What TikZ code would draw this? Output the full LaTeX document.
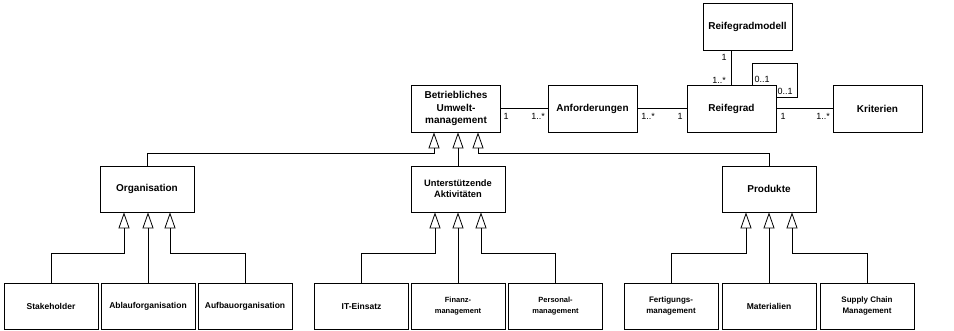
\documentclass[tikz,border=0pt]{standalone}
\usepackage{fontspec}
\setmainfont{Liberation Sans}
\usetikzlibrary{arrows.meta,calc}

\begin{document}
\begin{tikzpicture}[x=1pt, y=-1pt, line width=.8pt,
    box/.style={draw, minimum width=89pt, minimum height=47pt, align=center, inner sep=1pt, font=\fontsize{10}{12.5}\selectfont\bfseries},
    mid/.style={box, minimum width=94pt, minimum height=46pt},
    leaf/.style={box, minimum width=94pt, minimum height=46pt, font=\fontsize{8.5}{11}\selectfont\bfseries},
    inh/.style={-{Triangle[open, length=16pt, width=11pt, fill=white]}},
    mult/.style={font=\fontsize{9}{10}\selectfont, inner sep=0pt}]
\useasboundingbox (0,0) rectangle (954,331);

\node[box] (bum) at (456,108.5) {Betriebliches\\Umwelt-\\management};
\node[box] (anf) at (592.5,108.5) {Anforderungen};
\node[box] (rg) at (731.5,108.5) {Reifegrad};
\node[box] (krit) at (877.5,108.5) {Kriterien};
\node[box] (rgm) at (747.5,27) {Reifegradmodell};

\node[mid] (org) at (147,189) {Organisation};
\node[mid, font=\fontsize{9.3}{11}\selectfont\bfseries] (ua) at (458,189) {Unterstützende\\Aktivitäten};
\node[mid] (prod) at (769,189) {Produkte};

\node[leaf] (stake) at (51,306) {Stakeholder};
\node[leaf] (abl) at (148,306) {Ablauforganisation};
\node[leaf] (aufb) at (245,306) {Aufbauorganisation};
\node[leaf] (it) at (361.5,306) {IT-Einsatz};
\node[leaf, font=\fontsize{7.5}{11}\selectfont\bfseries] (fin) at (458,306) {Finanz-\\management};
\node[leaf, font=\fontsize{7.5}{11}\selectfont\bfseries] (pers) at (555.5,306) {Personal-\\management};
\node[leaf, font=\fontsize{8}{11}\selectfont\bfseries] (fert) at (671,306) {Fertigungs-\\management};
\node[leaf] (mat) at (769,306) {Materialien};
\node[leaf, font=\fontsize{8}{11}\selectfont\bfseries] (scm) at (867,306) {Supply Chain\\Management};

\draw[inh] (org.north) -- ++(0,-12) -| ($(bum.south)+(-22,0)$);
\draw[inh] (ua.north) -- (ua.north |- bum.south);
\draw[inh] (prod.north) -- ++(0,-12) -| ($(bum.south)+(22,0)$);

\foreach \kid/\base/\dx in {stake/org/-23, aufb/org/23, it/ua/-23, pers/ua/23, fert/prod/-23, scm/prod/23}
{
    \draw[inh] (\kid.north) -- ++(0,-29) -| ($(\base.south)+(\dx,0)$);
}
\foreach \kid/\base in {abl/org, fin/ua, mat/prod}
{
    \draw[inh] (\kid.north) -- (\kid.north |- \base.south);
}

\draw (bum) -- (anf);
\draw (anf) -- (rg);
\draw (rg) -- (krit);
\draw (rg.north) -- (rg.north |- rgm.south);
\draw ($(rg.north)+(21,0)$) -- ++(0,-21) -- ++(45,0) |- ($(rg.east)+(0,-11)$);

\node[mult] at (506,116) {1};
\node[mult] at (538,116) {1..*};
\node[mult] at (648,116) {1..*};
\node[mult] at (680,116) {1};
\node[mult] at (783,116) {1};
\node[mult] at (823,116) {1..*};
\node[mult] at (724,57) {1};
\node[mult] at (719,80) {1..*};
\node[mult] at (762,79) {0..1};
\node[mult] at (785,91) {0..1};

\end{tikzpicture}
\end{document}
